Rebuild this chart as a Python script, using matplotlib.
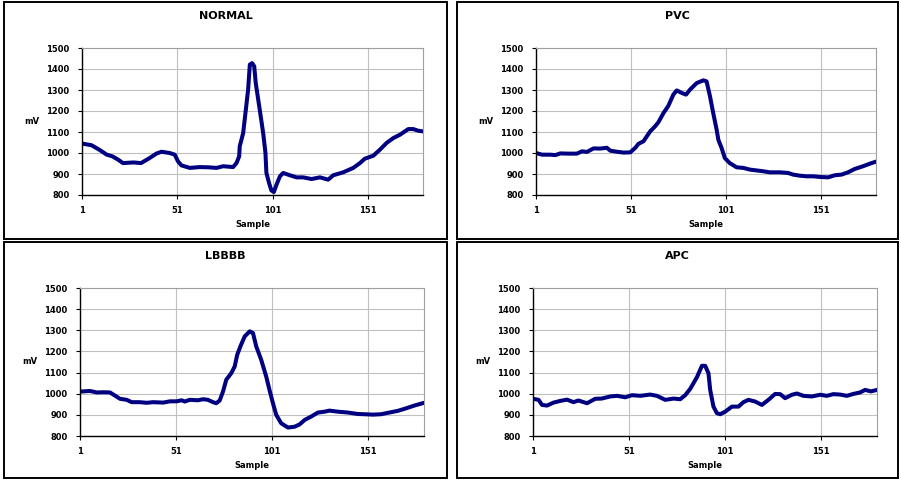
import matplotlib.pyplot as plt
from matplotlib.patches import Rectangle

plt.rcParams['font.family'] = ['DejaVu Sans']
plt.rcParams['font.weight'] = 'bold'

titles = ['NORMAL', 'PVC', 'LBBBB', 'APC']

normal_s = [1, 6, 10, 14, 17, 20, 22.5, 28, 32, 36.5, 40, 42.7, 47, 49.7, 51.4, 53.2,
            57.6, 62.8, 67.2, 71.6, 75.1, 80.3, 82.1, 83.5, 83.8, 85.6, 87, 88.2, 89.1,
            90.3, 91.4, 92.2, 94.3, 96.1, 97.3, 97.8, 99.2, 100.4, 101.7, 103.1, 104.9,
            106.6, 110.1, 113.6, 117.1, 121.5, 125.9, 130.2, 132.9, 138.1, 143.4, 146.9,
            149.5, 153.9, 157.4, 160.9, 164.4, 167.9, 172.3, 174.9, 177.5, 180]
normal_mv = [1045, 1037, 1016, 992, 984, 968, 952, 955, 952, 976, 997, 1006, 1000, 992, 960, 941,
             929, 933, 932, 929, 937, 933, 952, 984, 1032, 1095, 1206, 1302, 1421,
             1428, 1413, 1333, 1206, 1095, 1000, 905, 857, 822, 814, 849, 889,
             905, 894, 884, 884, 876, 884, 873, 894, 908, 929, 952,
             973, 987, 1016, 1048, 1071, 1087, 1114, 1114, 1106, 1103]

pvc_s = [1, 4.2, 8.5, 11.2, 13.8, 18.2, 22.5, 25.2, 27.8, 31.3, 34.8, 38.3, 40.1, 43.6, 47.1,
         50.6, 53.2, 55, 57.6, 61.1, 63.7, 65.4, 68.1, 70.7, 73.3, 75.1, 77.7, 80, 82.1, 85.6,
         89.1, 90.8, 92.6, 94.3, 96.1, 97, 98.7, 100.4, 103, 106.6, 110.1, 113.6, 117.1,
         120.6, 124.1, 129.4, 133.7, 136.4, 139.9, 143.4, 146.9, 150.4, 154.8, 158.3,
         161.8, 165.3, 168.8, 173.2, 176.7, 180]
pvc_mv = [1000, 992, 992, 990, 998, 997, 997, 1008, 1005, 1022, 1021, 1025, 1011, 1006, 1002,
          1003, 1024, 1044, 1056, 1103, 1127, 1146, 1190, 1225, 1278, 1298, 1286, 1278, 1302, 1333,
          1346, 1341, 1270, 1190, 1111, 1063, 1024, 976, 952, 932, 929, 921, 917,
          913, 908, 908, 905, 897, 892, 889, 889, 886, 884, 894,
          897, 908, 924, 937, 949, 959]

lbbbb_s = [1, 6.2, 9.7, 13.1, 16.6, 19.2, 21.8, 25.3, 27.9, 32.2, 35.7, 39.1, 44.3, 47.8,
           51.3, 53.9, 55.5, 58.1, 62.4, 65, 67.6, 70.2, 71.9, 73.7, 75.4, 77.1, 79.7, 81.5,
           82.8, 84.6, 86.7, 89.3, 91, 92.7, 95.3, 97.9, 99.6, 101.4, 103.1, 105.7, 109.2,
           112.7, 115.3, 117.9, 121.3, 124.8, 128.2, 130.8, 135.2, 140.4, 145.6, 149.1,
           153.4, 157.7, 162, 166.4, 170.7, 175, 180]
lbbbb_mv = [1010, 1013, 1006, 1007, 1006, 991, 976, 971, 960, 960, 957, 960, 958, 964,
            964, 969, 963, 971, 969, 974, 971, 960, 955, 968, 1010, 1066, 1097, 1129,
            1184, 1227, 1271, 1295, 1287, 1224, 1160, 1081, 1018, 955, 900, 860, 840,
            844, 855, 876, 892, 911, 915, 920, 915, 911, 904, 903,
            901, 903, 911, 919, 931, 944, 957]

apc_s = [1, 3.9, 5.7, 8.3, 11.7, 15.2, 18.7, 22.1, 24.6, 29.1, 33.4, 36.7, 41.2, 44.7, 49,
         52.5, 56.8, 62, 65.5, 69.8, 74.1, 77.6, 80.2, 82.8, 86.3, 88.9, 90.6, 92.3, 93.2,
         94.9, 96.7, 98.4, 101, 104.5, 107.9, 110.5, 113.1, 116.6, 120.1, 123.5, 127,
         129.6, 132.2, 135.7, 138.3, 141.7, 146.1, 150.4, 153.9, 157.3, 160.8, 164.3,
         167.7, 171.2, 173.8, 176.8, 180]
apc_mv = [976, 971, 947, 944, 958, 966, 972, 960, 968, 955, 976, 977, 987, 990, 983,
          993, 990, 996, 990, 971, 977, 974, 993, 1023, 1078, 1132, 1132, 1097, 1018,
          939, 908, 903, 915, 939, 939, 960, 971, 963, 947, 971, 999,
          998, 979, 995, 1001, 990, 987, 995, 990, 998, 996, 990,
          999, 1006, 1018, 1011, 1018]

series = [(normal_s, normal_mv), (pvc_s, pvc_mv), (lbbbb_s, lbbbb_mv), (apc_s, apc_mv)]

W, H = 901, 480
fig = plt.figure(figsize=(W / 100, H / 100), dpi=100)

# chart frames and plot areas, in pixels (left, top, right, bottom)
frames = [(4, 2, 447, 239), (457, 2, 898, 239), (4, 242, 447, 478), (457, 242, 898, 478)]
plots = [(82, 48, 423, 195), (536, 48, 876, 195), (80, 288, 424, 436), (533, 288, 877, 436)]

for i in range(4):
    fl, ft, fr, fb = frames[i]
    fig.patches.append(Rectangle((fl / W, 1 - fb / H), (fr - fl) / W, (fb - ft) / H,
                                 transform=fig.transFigure, fill=False,
                                 edgecolor='black', linewidth=1.4))
    fig.text((fl + fr) / 2 / W, 1 - (ft + 14) / H, titles[i], ha='center', va='center',
             fontsize=8, fontweight='bold')

    l, t, r, b = plots[i]
    ax = fig.add_axes([l / W, 1 - b / H, (r - l) / W, (b - t) / H])
    s, mv = series[i]
    ax.plot(s, mv, color='#000080', linewidth=2.9, solid_joinstyle='round',
            solid_capstyle='round')
    ax.set_xlim(1, 180)
    ax.set_ylim(800, 1500)
    ax.set_yticks(range(800, 1501, 100))
    ax.set_xticks([1, 51, 101, 151])
    ax.grid(True, color='#c0c0c0', linewidth=0.8)
    ax.set_axisbelow(True)
    for side in ['top', 'right']:
        ax.spines[side].set_color('#a0a0a0')
        ax.spines[side].set_linewidth(0.8)
    for side in ['left', 'bottom']:
        ax.spines[side].set_linewidth(1.0)
    ax.tick_params(axis='both', length=3, width=0.8, labelsize=6, direction='out')
    ax.tick_params(axis='y', pad=6)
    ax.tick_params(axis='x', pad=5)
    for lab in ax.get_xticklabels() + ax.get_yticklabels():
        lab.set_fontweight('bold')
    ax.set_xlabel('Sample', fontsize=6, fontweight='bold')
    ax.xaxis.set_label_coords(0.5, -25 / (b - t))
    ax.set_ylabel('mV', fontsize=6, fontweight='bold', rotation=0, va='center', ha='center')
    ax.yaxis.set_label_coords(-50 / (r - l), 0.5)

fig.savefig('out.png', dpi=100)
